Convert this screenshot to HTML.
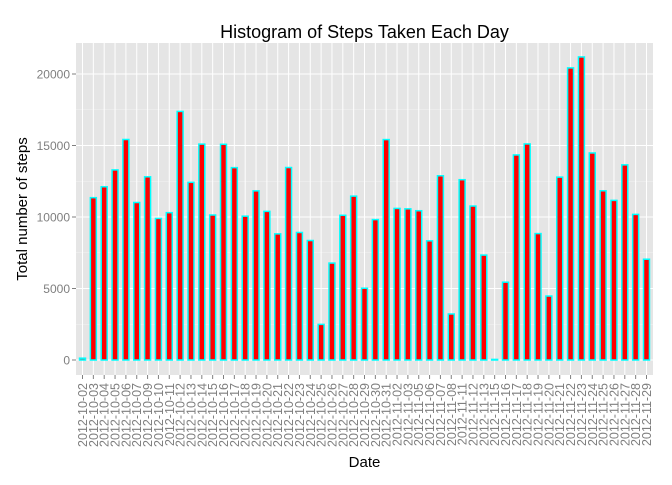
<!DOCTYPE html>
<html><head><meta charset="utf-8"><style>
body{margin:0;background:#fff;}
svg{font-family:"Liberation Sans",sans-serif;}
</style></head><body>
<svg id="c" width="672" height="480"></svg>
<script>
const dates=["2012-10-02","2012-10-03","2012-10-04","2012-10-05","2012-10-06","2012-10-07","2012-10-09","2012-10-10","2012-10-11","2012-10-12","2012-10-13","2012-10-14","2012-10-15","2012-10-16","2012-10-17","2012-10-18","2012-10-19","2012-10-20","2012-10-21","2012-10-22","2012-10-23","2012-10-24","2012-10-25","2012-10-26","2012-10-27","2012-10-28","2012-10-29","2012-10-30","2012-10-31","2012-11-02","2012-11-03","2012-11-05","2012-11-06","2012-11-07","2012-11-08","2012-11-11","2012-11-12","2012-11-13","2012-11-15","2012-11-16","2012-11-17","2012-11-18","2012-11-19","2012-11-20","2012-11-21","2012-11-22","2012-11-23","2012-11-24","2012-11-25","2012-11-26","2012-11-27","2012-11-28","2012-11-29"];
const steps=[126,11352,12116,13294,15420,11015,12811,9900,10304,17382,12426,15098,10139,15084,13452,10056,11829,10395,8821,13460,8918,8355,2492,6778,10119,11458,5018,9819,15414,10600,10571,10439,8334,12883,3219,12608,10765,7336,41,5441,14339,15110,8841,4472,12787,20427,21194,14478,11834,11162,13646,10183,7047];
const yTicks=[0,5000,10000,15000,20000];
const NS="http://www.w3.org/2000/svg";
const svg=document.getElementById('c');
function el(t,a,p){const e=document.createElementNS(NS,t);for(const k in a)e.setAttribute(k,a[k]);(p||svg).appendChild(e);return e;}
const L=76,R=653,T=43,B=375;
const n=dates.length;
const unit=(R-L)/(n-1+1.2);
const x=i=>L+(0.6+i)*unit;
const y=v=>360-v*(360-74)/20000;
const bg=el('rect',{x:L,y:T,width:R-L,height:B-T,fill:'#e5e5e5'});


for(let i=0;i<yTicks.length-1;i++){const v=(yTicks[i]+yTicks[i+1])/2;el('line',{x1:L,x2:R,y1:y(v),y2:y(v),stroke:'#f2f2f2','stroke-width':0.5});}
yTicks.forEach(v=>{
  el('line',{x1:L,x2:R,y1:y(v),y2:y(v),stroke:'#fff','stroke-width':1});
  el('line',{x1:L-4,x2:L,y1:y(v),y2:y(v),stroke:'#7f7f7f','stroke-width':1});
  const t=el('text',{x:L-6,y:y(v)+4.5,'text-anchor':'end','font-size':12,fill:'#7f7f7f'});
  t.textContent=v;
  
  
});
dates.forEach((d,i)=>{
  el('line',{x1:x(i),x2:x(i),y1:T,y2:B,stroke:'#fff','stroke-width':1});
});
const bw=unit*0.55;
steps.forEach((v,i)=>{
  const r=el('rect',{x:x(i)-bw/2,y:y(v),width:bw,height:Math.max(y(0)-y(v),0.5),fill:'#ff0000',stroke:'#00ffff','stroke-width':1.5});
  
  
});
dates.forEach((d,i)=>{
  el('line',{x1:x(i),x2:x(i),y1:B,y2:B+4,stroke:'#7f7f7f','stroke-width':1});
  const t=el('text',{transform:`translate(${x(i)+4.5},${B+8}) rotate(-90)`,'text-anchor':'end','font-size':12.5,fill:'#7f7f7f'});
  t.textContent=d;
  
  
});
const ti=el('text',{x:(L+R)/2,y:38,'text-anchor':'middle','font-size':18,fill:'#000'});
ti.textContent='Histogram of Steps Taken Each Day';


const xt=el('text',{x:(L+R)/2,y:467,'text-anchor':'middle','font-size':15,fill:'#000'});
xt.textContent='Date';


const yt=el('text',{transform:`translate(27,${(T+B)/2}) rotate(-90)`,'text-anchor':'middle','font-size':15,fill:'#000'});
yt.textContent='Total number of steps';


</script>
</body></html>
